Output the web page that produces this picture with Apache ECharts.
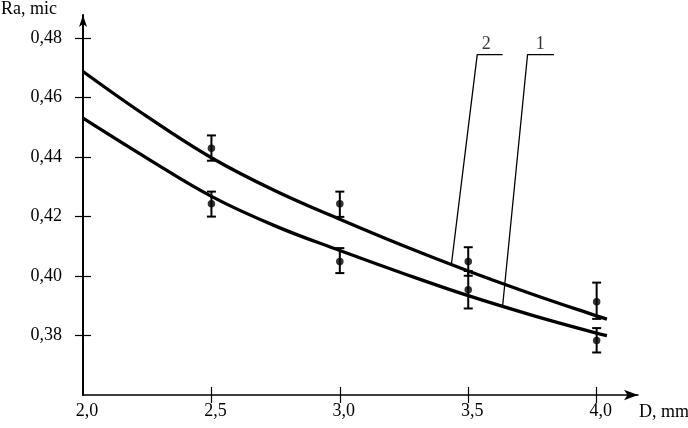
<!DOCTYPE html>
<html>
<head>
<meta charset="utf-8">
<script src="https://cdn.jsdelivr.net/npm/echarts@6/dist/echarts.min.js"></script>
<style>
html,body{margin:0;padding:0;background:#fff;}
#chart{width:688px;height:428px;}
</style>
</head>
<body>
<div id="chart"></div>
<script>
// ---- data ----
var xTicks = [2.5, 3.0, 3.5, 4.0];
var xLabels = [2.0, 2.5, 3.0, 3.5, 4.0];
var yTicks = [0.38, 0.40, 0.42, 0.44, 0.46, 0.48];

// curve 2 (upper) and curve 1 (lower)
var curveX  = [2.0, 2.25, 2.5, 2.75, 3.0, 3.25, 3.5, 3.75, 4.0, 4.04];
var curve2Y = [0.4688, 0.4536, 0.4398, 0.4286, 0.4191, 0.4101, 0.4017, 0.3939, 0.3866, 0.3855];
var curve1Y = [0.4531, 0.4396, 0.4268, 0.4168, 0.4086, 0.4008, 0.3934, 0.3868, 0.3808, 0.3800];

// measured points with error bars
var ptX     = [2.5, 3.0, 3.5, 4.0];
var pt2Y    = [0.4430, 0.4243, 0.4049, 0.3914];
var pt2High = [0.4473, 0.4284, 0.4097, 0.3978];
var pt2Low  = [0.4388, 0.4199, 0.4001, 0.3856];
var pt1Y    = [0.4243, 0.4049, 0.3954, 0.3783];
var pt1High = [0.4284, 0.4094, 0.4017, 0.3825];
var pt1Low  = [0.4200, 0.4010, 0.3891, 0.3743];

// leader lines for curve labels
var lead2X = [3.435, 3.535, 3.634];
var lead2Y = [0.4043, 0.4745, 0.4745];
var lead1X = [3.634, 3.731, 3.834];
var lead1Y = [0.3900, 0.4745, 0.4745];
var curveLabels = ['2', '1'];
var curveLabelX = [3.57, 3.78];
var curveLabelY = [0.4745, 0.4745];

var xName = 'D, mm', yName = 'Ra, mic';

// ---- build ----
function zip(a, b) { return a.map(function (v, i) { return [v, b[i]]; }); }
var font = 'Liberation Serif, Times New Roman, serif';
var xMin = 2.0, xMax = 4.161, yMin = 0.36, yMax = 0.4878;

var errData = [];
ptX.forEach(function (x, i) {
  errData.push([x, pt2Low[i], pt2High[i]]);
  errData.push([x, pt1Low[i], pt1High[i]]);
});

var chart = echarts.init(document.getElementById('chart'), null, { renderer: 'canvas' });
var baseX = { type: 'value', min: xMin, max: xMax, interval: 0.5, splitLine: { show: false }, position: 'bottom', offset: 0 };
var baseY = { type: 'value', min: yMin, max: yMax, interval: 0.02, splitLine: { show: false }, position: 'left', offset: 0 };

chart.setOption({
  animation: false,
  backgroundColor: '#fff',
  grid: { left: 83, right: 50, top: 15, bottom: 33, containLabel: false, outerBoundsMode: 'none' },
  xAxis: [
    Object.assign({}, baseX, {
      name: xName, nameLocation: 'end', nameGap: 0,
      nameTextStyle: { fontFamily: font, fontSize: 18, color: '#000', align: 'left', verticalAlign: 'top', padding: [8, 0, 0, 1] },
      axisLine: { show: true, onZero: false, symbol: ['none', 'arrow'], symbolSize: [8, 14], lineStyle: { color: '#000', width: 1.5 } },
      axisTick: { show: true, inside: false, length: 8, customValues: xTicks, lineStyle: { color: '#000', width: 1.2 } },
      axisLabel: { show: true, margin: 7, customValues: xLabels, padding: [0, 0, 0, 8], fontFamily: font, fontSize: 18, color: '#000',
        formatter: function (v) { return v.toFixed(1).replace('.', ','); } }
    }),
    Object.assign({}, baseX, {
      axisLine: { show: false, onZero: false },
      axisTick: { show: true, inside: true, length: 8, customValues: xTicks, lineStyle: { color: '#000', width: 1.2 } },
      axisLabel: { show: false }
    })
  ],
  yAxis: [
    Object.assign({}, baseY, {
      name: yName, nameLocation: 'end', nameGap: 6,
      nameTextStyle: { fontFamily: font, fontSize: 18, color: '#000', align: 'right', verticalAlign: 'middle', padding: [0, 26, 0, 0] },
      axisLine: { show: true, onZero: false, symbol: ['none', 'arrow'], symbolSize: [6, 12], lineStyle: { color: '#000', width: 2 } },
      axisTick: { show: true, inside: false, length: 8, customValues: yTicks, lineStyle: { color: '#000', width: 1.2 } },
      axisLabel: { show: true, margin: 21, customValues: yTicks, fontFamily: font, fontSize: 18, color: '#000',
        formatter: function (v) { return v.toFixed(2).replace('.', ','); } }
    }),
    Object.assign({}, baseY, {
      axisLine: { show: false, onZero: false },
      axisTick: { show: true, inside: true, length: 8, customValues: yTicks, lineStyle: { color: '#000', width: 1.2 } },
      axisLabel: { show: false }
    })
  ],
  series: [
    { type: 'line', smooth: 0.4, symbol: 'none', data: zip(curveX, curve2Y), lineStyle: { color: '#000', width: 3.3 } },
    { type: 'line', smooth: 0.4, symbol: 'none', data: zip(curveX, curve1Y), lineStyle: { color: '#000', width: 3.3 } },
    {
      type: 'custom', data: errData,
      renderItem: function (params, api) {
        var top = api.coord([api.value(0), api.value(2)]);
        var bot = api.coord([api.value(0), api.value(1)]);
        var hw = 4.5;
        var st = { stroke: '#000', lineWidth: 2, fill: null };
        return { type: 'group', children: [
          { type: 'line', shape: { x1: top[0], y1: top[1], x2: bot[0], y2: bot[1] }, style: st },
          { type: 'line', shape: { x1: top[0] - hw, y1: top[1], x2: top[0] + hw, y2: top[1] }, style: st },
          { type: 'line', shape: { x1: bot[0] - hw, y1: bot[1], x2: bot[0] + hw, y2: bot[1] }, style: st }
        ] };
      },
      z: 3
    },
    { type: 'scatter', symbol: 'circle', symbolSize: 7.5, itemStyle: { color: '#000' }, data: zip(ptX, pt2Y), z: 4 },
    { type: 'scatter', symbol: 'circle', symbolSize: 7.5, itemStyle: { color: '#000' }, data: zip(ptX, pt1Y), z: 4 },
    { type: 'line', symbol: 'none', data: zip(lead2X, lead2Y), lineStyle: { color: '#000', width: 1.3 } },
    { type: 'line', symbol: 'none', data: zip(lead1X, lead1Y), lineStyle: { color: '#000', width: 1.3 } },
    {
      type: 'scatter', symbolSize: 1, itemStyle: { color: 'rgba(0,0,0,0)' },
      data: curveLabelX.map(function (x, i) { return { value: [x, curveLabelY[i]], name: curveLabels[i] }; }),
      label: { show: true, position: 'top', distance: 1, formatter: '{b}', fontFamily: font, fontSize: 18, color: '#000' },
      z: 5
    }
  ]
});
</script>
</body>
</html>
